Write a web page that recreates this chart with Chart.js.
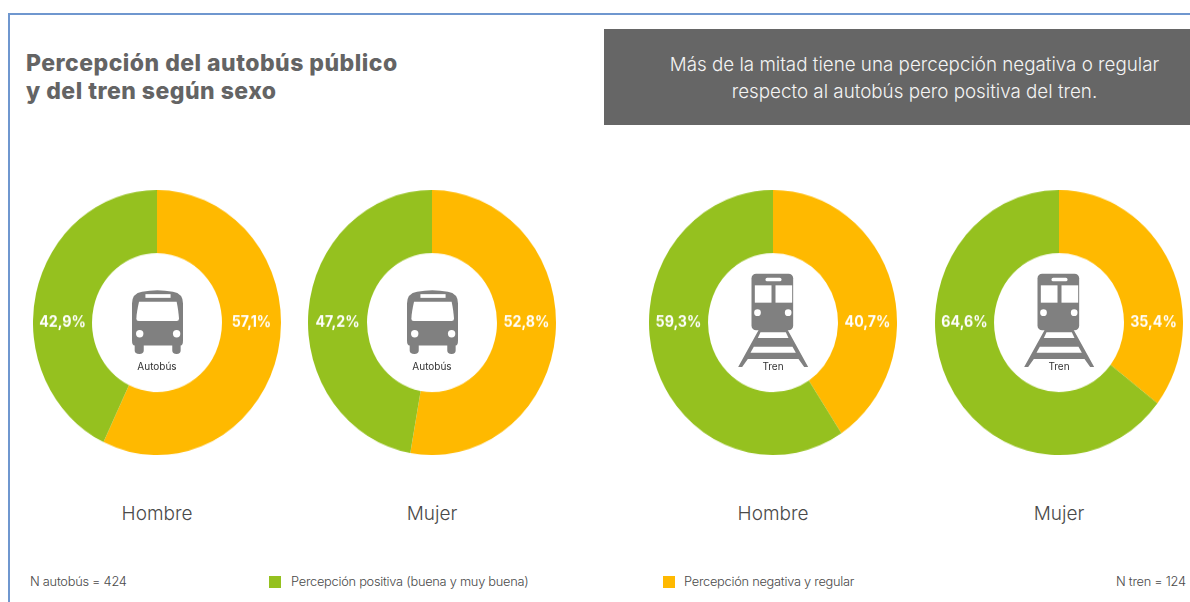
<!DOCTYPE html>
<html lang="es">
<head>
<meta charset="utf-8">
<title>Percepción del autobús público y del tren según sexo</title>
<script src="https://cdn.jsdelivr.net/npm/chart.js@4"></script>
<style>
  html, body { margin: 0; padding: 0; background: #fff; }
  body { width: 1190px; height: 602px; position: relative; overflow: hidden; font-family: "Inter", sans-serif; color: #555; }
  .frame { position: absolute; left: 8px; top: 13px; width: 1190px; height: 600px; border-top: 2px solid #6f97cf; border-left: 2px solid #6f97cf; }
  .title { position: absolute; left: 26px; top: 49px; font: 800 23px/28px "Inter", sans-serif; color: #646464; letter-spacing: .48px; white-space: nowrap; }
  .note { position: absolute; left: 604px; top: 29px; width: 586px; height: 96px; background: #666; color: #f4f4f4; font: 300 18.8px/27px "Inter", sans-serif; text-align: center; padding-top: 22px; padding-left: 35px; box-sizing: border-box; white-space: nowrap; }
  .donut { position: absolute; top: 190px; width: 248px; height: 248px; transform: scaleY(1.069); transform-origin: top; }
  .sex { position: absolute; top: 502px; width: 160px; text-align: center; font: 300 19px/24px "Inter", sans-serif; color: #4a4a4a; }
  .iconText { position: absolute; top: 360px; width: 80px; text-align: center; font: 400 10px/13px "Inter", sans-serif; color: #333; }
  .small { position: absolute; top: 574px; font: 300 12.8px/16px "Inter", sans-serif; color: #4a4a4a; white-space: nowrap; letter-spacing: -.25px; }
  .swatch { position: absolute; top: 576px; width: 12px; height: 12px; }
  svg { position: absolute; }
</style>
</head>
<body>
<div class="frame"></div>
<div class="title">Percepción del autobús público<br>y del tren según sexo</div>
<div class="note">Más de la mitad tiene una percepción negativa o regular<br>respecto al autobús pero positiva del tren.</div>
<div id="charts"></div>

<svg width="0" height="0">
  <symbol id="busIcon" viewBox="125 120 152 190">
    <path fill="#808080" d="M125 160 Q125 130 155 125 Q200 115 247 125 Q277 130 277 160 V270 Q277 285 270 285 V300 Q270 310 258 310 Q245 310 245 300 V285 H160 V300 Q160 310 147 310 Q133 310 133 300 V285 Q125 285 125 270 Z"/>
    <rect fill="#fff" x="165" y="132" width="75" height="11"/>
    <path fill="#fff" d="M146 155 H258 Q264 185 265 205 Q265 212 258 212 H145 Q138 212 138 205 Q139 185 146 155 Z"/>
    <circle fill="#fff" cx="148" cy="250" r="11"/>
    <circle fill="#fff" cx="258" cy="250" r="11"/>
  </symbol>
  <symbol id="trainIcon" viewBox="115 68 212 285">
    <path fill="#808080" d="M178 236 H262 L325 350 H313 L296 326 H144 L127 350 H115 Z"/>
    <rect fill="#808080" x="155" y="70" width="125" height="170" rx="14"/>
    <rect fill="#fff" x="197" y="82" width="48" height="11" rx="5"/>
    <rect fill="#fff" x="165" y="105" width="50" height="52"/>
    <rect fill="#fff" x="227" y="105" width="50" height="52"/>
    <circle fill="#fff" cx="173" cy="187" r="10"/>
    <circle fill="#fff" cx="265" cy="187" r="10"/>
    <path fill="#fff" d="M182 246 H258 L266 263 H174 Z"/>
    <path fill="#fff" d="M162 289 H278 L288 307 H152 Z"/>
  </symbol>
</svg>

<div class="small" style="left:30px">N autobús = 424</div>
<div class="swatch" style="left:269px;background:#95c11f"></div>
<div class="small" style="left:291px">Percepción positiva (buena y muy buena)</div>
<div class="swatch" style="left:663px;background:#ffb900"></div>
<div class="small" style="left:684px">Percepción negativa y regular</div>
<div class="small" style="left:1116px">N tren = 124</div>

<script>
// --- data ---
const sexLabels = ["Hombre", "Mujer", "Hombre", "Mujer"];
const modeLabels = ["Autobús", "Autobús", "Tren", "Tren"];
const perceptionLabels = ["Percepción negativa y regular", "Percepción positiva (buena y muy buena)"];
const negativeValues = [57.1, 52.8, 40.7, 35.4];
const positiveValues = [42.9, 47.2, 59.3, 64.6];
const centersX = [157, 432, 773, 1059];

const GREEN = "#95c11f";
const ORANGE = "#ffb900";

// white percentage label on each half of the ring, at the height of the centre
const ringLabels = {
    id: "ringLabels",
    afterDatasetsDraw(chart) {
        const arc = chart.getDatasetMeta(0).data[0];
        const mid = (arc.outerRadius + arc.innerRadius) / 2;
        const ctx = chart.ctx;
        const values = chart.data.datasets[0].data;
        ctx.save();
        ctx.fillStyle = "#fff";
        ctx.font = '700 14.2px "Inter", sans-serif';
        ctx.textAlign = "center";
        ctx.textBaseline = "middle";
        ctx.fillText(values[0].toFixed(1).replace(".", ",") + "%", arc.x + mid, arc.y);
        ctx.fillText(values[1].toFixed(1).replace(".", ",") + "%", arc.x - mid, arc.y);
        ctx.restore();
    }
};

const holder = document.getElementById("charts");

centersX.forEach((cx, i) => {
    const wrap = document.createElement("div");
    wrap.className = "donut";
    wrap.style.left = (cx - 124) + "px";
    const canvas = document.createElement("canvas");
    canvas.width = 248;
    canvas.height = 248;
    wrap.appendChild(canvas);
    holder.appendChild(wrap);

    new Chart(canvas.getContext("2d"), {
        type: "doughnut",
        data: {
            labels: perceptionLabels,
            datasets: [{
                data: [negativeValues[i], positiveValues[i]],
                backgroundColor: [ORANGE, GREEN],
                borderWidth: 0
            }]
        },
        options: {
            responsive: false,
            animation: false,
            cutout: "52.4%",
            plugins: { legend: { display: false }, tooltip: { enabled: false } }
        },
        plugins: [ringLabels]
    });

    // icon and captions
    const isBus = modeLabels[i] === "Autobús";
    const svg = document.createElementNS("http://www.w3.org/2000/svg", "svg");
    const w = isBus ? 51 : 71, h = isBus ? 64 : 95;
    svg.setAttribute("width", w);
    svg.setAttribute("height", h);
    svg.style.left = (cx - w / 2) + "px";
    svg.style.top = (isBus ? 290 : 273) + "px";
    const use = document.createElementNS("http://www.w3.org/2000/svg", "use");
    use.setAttribute("href", isBus ? "#busIcon" : "#trainIcon");
    svg.appendChild(use);
    holder.appendChild(svg);

    const text = document.createElement("div");
    text.className = "iconText";
    text.style.left = (cx - 40) + "px";
    text.textContent = modeLabels[i];
    holder.appendChild(text);

    const sex = document.createElement("div");
    sex.className = "sex";
    sex.style.left = (cx - 80) + "px";
    sex.textContent = sexLabels[i];
    holder.appendChild(sex);
});
</script>
</body>
</html>
